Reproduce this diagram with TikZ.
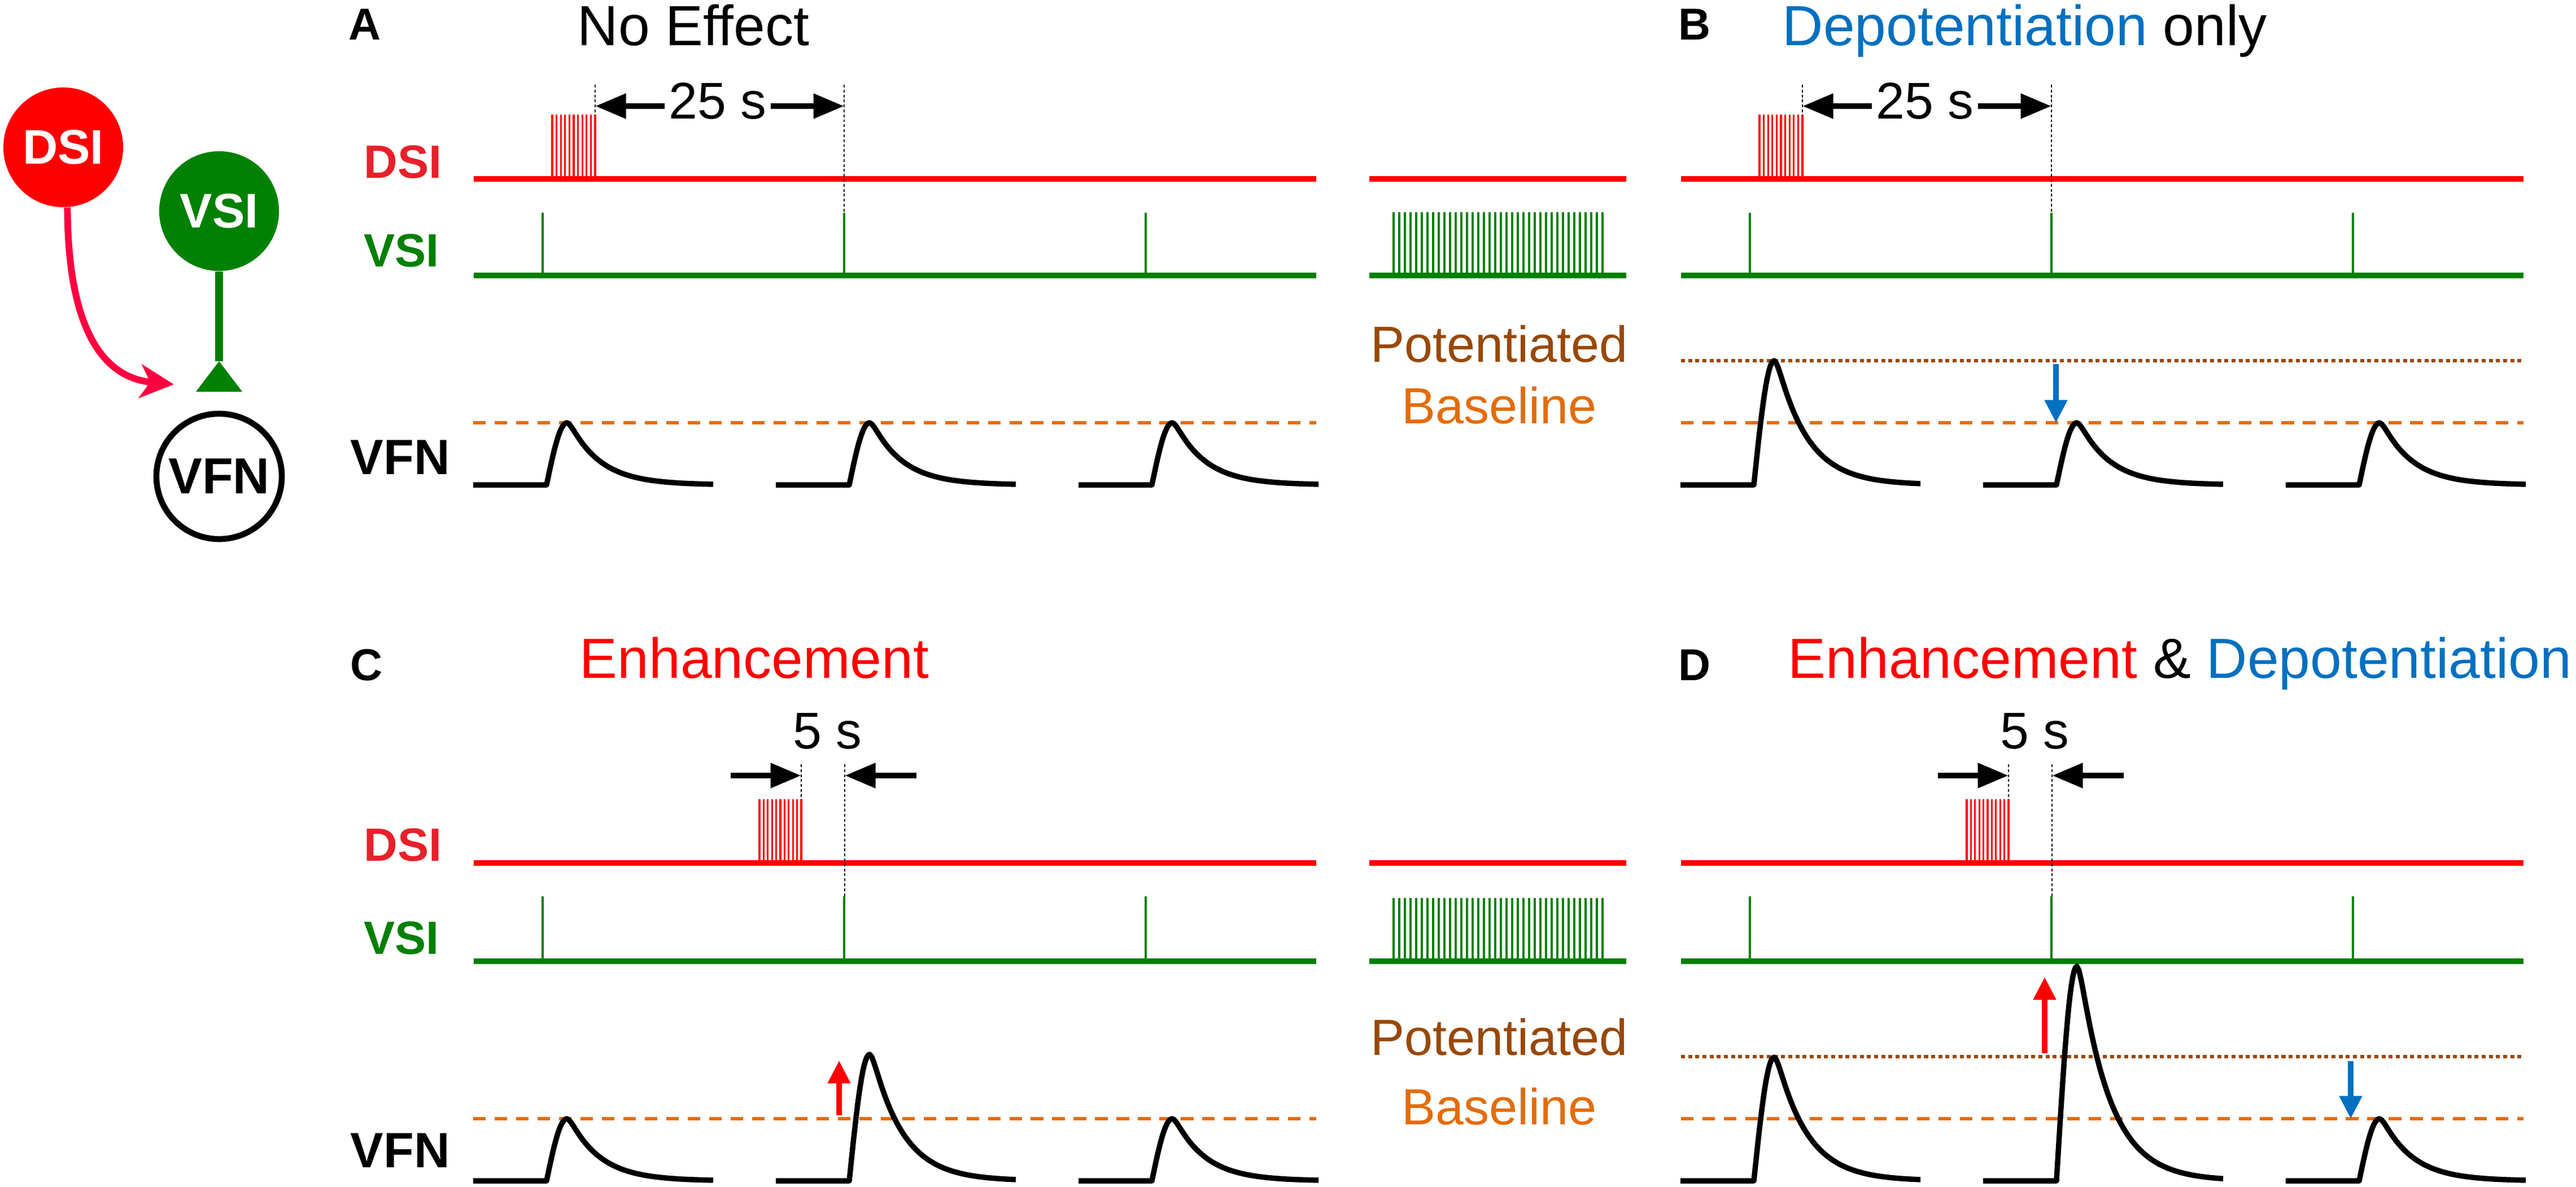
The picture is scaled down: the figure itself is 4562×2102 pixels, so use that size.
\documentclass[tikz,border=0pt]{standalone}
\usepackage{fontspec}
\setmainfont{Liberation Sans}
\usetikzlibrary{arrows.meta, positioning}
\definecolor{dsired}{HTML}{FF0000}
\definecolor{labred}{HTML}{E8202A}
\definecolor{vsigreen}{HTML}{008000}
\definecolor{synred}{HTML}{FF0040}
\definecolor{depblue}{HTML}{0070C0}
\definecolor{baseorange}{HTML}{E46C0A}
\definecolor{potbrown}{HTML}{984807}
\tikzset{
  dsiline/.style={dsired, line width=3pt},
  vsiline/.style={vsigreen, line width=3pt},
  spike/.style={line width=0.9pt},
  trace/.style={black, line width=2.7pt, line join=round},
  basedash/.style={baseorange, line width=1.6pt, dash pattern=on 6.3pt off 4.5pt},
  potdash/.style={potbrown, line width=1.8pt, dash pattern=on 2pt off 1.6pt},
  guide/.style={black, line width=0.65pt, dash pattern=on 1.4pt off 1.1pt},
  timearrow/.style={line width=3pt, -{Triangle[length=15.5pt, width=12pt]}},
  updown/.style={line width=2.6pt, -{Triangle[length=11.5pt, width=11pt]}},
  synarrow/.style={synred, line width=3.4pt, -{Stealth[length=17pt, width=17pt, inset=5pt]}},
  rowlabel/.style={anchor=base west, inner sep=0, font=\fontsize{23.5}{24}\selectfont\bfseries},
  panel/.style={anchor=base west, inner sep=0, font=\fontsize{22.5}{23}\selectfont\bfseries},
  title/.style={anchor=base west, inner sep=0, font=\fontsize{28.5}{30}\selectfont},
  timelabel/.style={anchor=base, inner sep=0, font=\fontsize{26}{28}\selectfont},
  midlabel/.style={anchor=base, inner sep=0, font=\fontsize{25.6}{27}\selectfont},
  neuron/.style={circle, inner sep=0, minimum size=2.12cm, text=white, font=\fontsize{24.5}{25}\selectfont\bfseries},
}
% one VFN response: start x, amplitude, rest level
\newcommand{\epsp}[3]{%
  \draw[trace] (#1,#3) -- ++(130,0)
    -- plot[domain=0:36, samples=16] ({#1+130+\x}, {#3-#2*sin(2.5*\x)})
    -- plot[domain=0:259, samples=70] ({#1+166+\x}, {#3-#2*(1.1*exp(-\x/55)-0.1*exp(-min(\x,50)/5))});
}
\begin{document}
\begin{tikzpicture}[x=0.01cm, y=-0.01cm]
\useasboundingbox (0,0) rectangle (4562,2102);
%neurons
\node[neuron, fill=dsired] (dsi) at (112,261) {DSI};
\node[neuron, fill=vsigreen] (vsi) at (388,374) {VSI};
\node[neuron, draw=black, line width=3pt, minimum size=2.22cm, text=black,
      font=\fontsize{25.5}{26}\selectfont\bfseries] (vfn) at (388,844) {VFN};
\coordinate (syn) at (388,640);
\coordinate (syntip) at (308,681);
\draw[vsigreen, line width=4pt] (vsi.south) -- (syn);
\fill[vsigreen] (syn) -- (347,694) -- (429,694) -- cycle;
\draw[synarrow] (dsi.-86) .. controls (120,560) and (170,668) .. (syntip);

%row 1
\node[panel] (pA) at (617,70) {A};
\node[title] (hA) at (1022,80) {No Effect};
\node[panel] (pB) at (2972,70) {B};
\node[title] (hB) at (3156,80) {\textcolor{depblue}{Depotentiation} only};
\node[rowlabel, labred] (dsiA) at (644,315) {DSI};
\node[rowlabel, vsigreen] (vsiA) at (644,472) {VSI};
\node[rowlabel, font=\fontsize{25}{26}\selectfont\bfseries] (vfnA) at (620,840) {VFN};
\draw[basedash] (838,749) -- (2331,749);
\draw[basedash] (2977,749) -- (4469,749);
\draw[potdash] (2977,639) -- (4469,639);
\foreach \dx in {0,2138} {
  \foreach \i in {0,...,10}
    \draw[dsired, spike] ({978+7.6*\i+\dx},317) -- ++(0,-114);
  \foreach \i in {0,1,2}
    \draw[vsigreen, spike] ({961+534*\i+\dx},488) -- ++(0,-111);
  \draw[dsiline] (839+\dx,317) -- (2331+\dx,317);
  \draw[vsiline] (839+\dx,488) -- (2331+\dx,488);
  \draw[guide] (1054+\dx,150) -- (1054+\dx,203);
  \draw[guide] (1495+\dx,150) -- (1495+\dx,377);
  \node[timelabel] (t25\dx) at (1271+\dx,210) {25 s};
  \coordinate (l25\dx) at (1177+\dx,188);
  \coordinate (r25\dx) at (1365+\dx,188);
  \draw[timearrow] (l25\dx) -- (1054+\dx,188);
  \draw[timearrow] (r25\dx) -- (1495+\dx,188);
}
\foreach \i/\amp in {0/110,1/110,2/110} \epsp{838+536*\i}{\amp}{859};
\foreach \i/\amp in {0/220,1/110,2/110} \epsp{2976+536*\i}{\amp}{859};
\coordinate (dnB) at (3641,645);
\coordinate (dnBe) at (3641,749);
\draw[updown, depblue] (dnB) -- (dnBe);

%middle
\foreach \yd/\yv in {317/488,1529/1703} {
  \foreach \i in {0,...,37}
    \draw[vsigreen, spike] ({2468+10*\i},\yv) -- ++(0,-112);
  \draw[dsiline] (2425,\yd) -- (2880,\yd);
  \draw[vsiline] (2425,\yv) -- (2880,\yv);
}
\node[midlabel, potbrown] (potA) at (2655,641) {Potentiated};
\node[midlabel, baseorange] (basA) at (2655,750) {Baseline};
\node[midlabel, potbrown] (potC) at (2655,1869) {Potentiated};
\node[midlabel, baseorange] (basC) at (2655,1992) {Baseline};

%row 2
\node[panel] (pC) at (620,1205) {C};
\node[title, dsired] (hC) at (1026,1201) {Enhancement};
\node[panel] (pD) at (2972,1205) {D};
\node[title] (hD) at (3166,1201) {\textcolor{dsired}{Enhancement} \& \textcolor{depblue}{Depotentiation}};
\node[rowlabel, labred] (dsiC) at (644,1525) {DSI};
\node[rowlabel, vsigreen] (vsiC) at (644,1690) {VSI};
\node[rowlabel, font=\fontsize{25}{26}\selectfont\bfseries] (vfnC) at (620,2068) {VFN};
\draw[basedash] (838,1982) -- (2331,1982);
\draw[basedash] (2977,1982) -- (4469,1982);
\draw[potdash] (2977,1872) -- (4469,1872);
\foreach \dx in {0,2138} {
  \foreach \i in {0,...,10}
    \draw[dsired, spike] ({1345+7.4*\i+\dx},1529) -- ++(0,-113);
  \foreach \i in {0,1,2}
    \draw[vsigreen, spike] ({961+534*\i+\dx},1703) -- ++(0,-115);
  \draw[dsiline] (839+\dx,1529) -- (2331+\dx,1529);
  \draw[vsiline] (839+\dx,1703) -- (2331+\dx,1703);
  \draw[guide] (1419+\dx,1354) -- (1419+\dx,1416);
  \draw[guide] (1496+\dx,1354) -- (1496+\dx,1588);
  \node[timelabel] (t5\dx) at (1465+\dx,1326) {5 s};
  \coordinate (l5\dx) at (1294+\dx,1374);
  \coordinate (r5\dx) at (1623+\dx,1374);
  \draw[timearrow] (l5\dx) -- (1419+\dx,1374);
  \draw[timearrow] (r5\dx) -- (1496+\dx,1374);
}
\foreach \i/\amp in {0/110,1/224,2/110} \epsp{838+536*\i}{\amp}{2092};
\foreach \i/\amp in {0/219,1/380,2/110} \epsp{2976+536*\i}{\amp}{2092};
\coordinate (upC) at (1486,1976);
\coordinate (upCe) at (1486,1879);
\draw[updown, dsired] (upC) -- (upCe);
\coordinate (upD) at (3621,1866);
\coordinate (upDe) at (3621,1731);
\draw[updown, dsired] (upD) -- (upDe);
\coordinate (dnD) at (4163,1880);
\coordinate (dnDe) at (4163,1982);
\draw[updown, depblue] (dnD) -- (dnDe);
\end{tikzpicture}
\end{document}
